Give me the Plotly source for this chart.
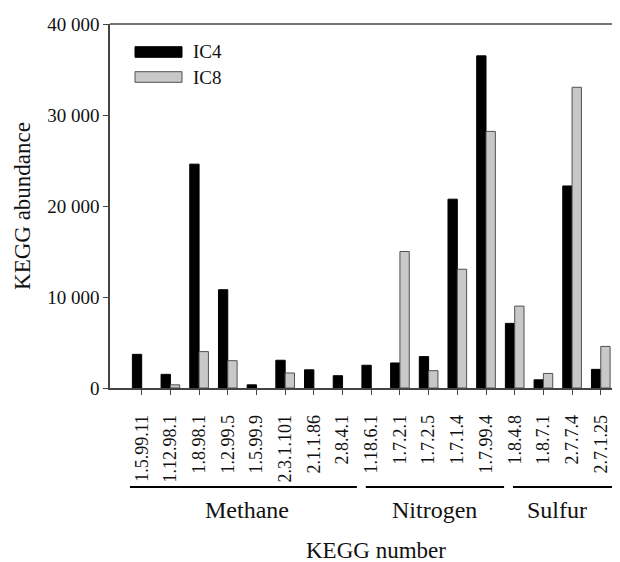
import plotly.graph_objects as go

# ---- data ----
kegg = ["1.5.99.11", "1.12.98.1", "1.8.98.1", "1.2.99.5", "1.5.99.9", "2.3.1.101",
        "2.1.1.86", "2.8.4.1", "1.18.6.1", "1.7.2.1", "1.7.2.5", "1.7.1.4",
        "1.7.99.4", "1.8.4.8", "1.8.7.1", "2.7.7.4", "2.7.1.25"]
ic4 = [3700, 1500, 24600, 10800, 350, 3050, 2000, 1350, 2500, 2750, 3450, 20750,
       36500, 7100, 900, 22200, 2050]
ic8 = [0, 350, 4000, 3000, 0, 1650, 0, 0, 0, 15000, 1900, 13050,
       28200, 9000, 1600, 33050, 4570]
series_names = ["IC4", "IC8"]
groups = ["Methane", "Nitrogen", "Sulfur"]
y_ticks = [0, 10000, 20000, 30000, 40000]

OFF = 8  # page margin of the browser
W, H = 620 - OFF, 562 - OFF
L, R, T, B = 110 - OFF, 0, 24 - OFF, 174
PW, PH = W - L - R, H - T - B

def px(x):
    return (x - OFF - L) / PW

def py(y):
    return (H - B - (y - OFF)) / PH

FONT = "Liberation Serif"
fig = go.Figure()
fig.add_trace(go.Bar(x=kegg, y=ic4, name=series_names[0],
                     marker=dict(color="#000000",
                                 line=dict(color="#000000", width=[1 if v > 0 else 0 for v in ic4])),
                     showlegend=False))
fig.add_trace(go.Bar(x=kegg, y=ic8, name=series_names[1],
                     marker=dict(color="#c8c8c8",
                                 line=dict(color="#505050", width=[1 if v > 0 else 0 for v in ic8])),
                     showlegend=False))

shapes = []
annotations = []
shapes.append(dict(type="line", xref="paper", yref="paper", x0=0, x1=1, y0=1, y1=1,
                   line=dict(color="#444444", width=1.5)))
line_y = py(487)
lab_y = py(510)
starts = [-0.41, 7.81, 12.94]
ends = [7.5, 12.63, 16.8]
for s, e in zip(starts, ends):
    shapes.append(dict(type="line", xref="x", yref="paper", x0=s, x1=e, y0=line_y, y1=line_y,
                       line=dict(color="#000000", width=2)))
for g, cx in zip(groups, [3.66, 10.22, 14.46]):
    annotations.append(dict(text=g, x=cx, y=lab_y, xref="x", yref="paper",
                            showarrow=False, xanchor="center", yanchor="middle",
                            font=dict(family=FONT, size=24, color="#111111")))
annotations.append(dict(text="KEGG number", x=px(376), y=py(550), xref="paper", yref="paper",
                        showarrow=False, xanchor="center", yanchor="middle",
                        font=dict(family=FONT, size=23, color="#111111")))
leg = [("#000000", "#000000", 46.7, 57.3), ("#c8c8c8", "#505050", 71.7, 82.3)]
for (fc, lc, y0, y1), name in zip(leg, series_names):
    shapes.append(dict(type="rect", xref="paper", yref="paper",
                       x0=px(135), x1=px(182), y0=py(y1), y1=py(y0),
                       fillcolor=fc, line=dict(color=lc, width=1)))
    annotations.append(dict(text=name, x=px(191), y=py((y0 + y1) / 2), xref="paper", yref="paper",
                            showarrow=False, xanchor="left", yanchor="middle",
                            font=dict(family=FONT, size=19, color="#111111")))

fig.update_layout(
    width=W, height=H,
    margin=dict(l=L, r=R, t=T, b=B),
    paper_bgcolor="white", plot_bgcolor="white",
    barmode="group", bargap=0.35, bargroupgap=0,
    separators=". ",
    font=dict(family=FONT, color="#111111"),
    shapes=shapes, annotations=annotations,
)
fig.update_xaxes(
    range=[-1.105, 16.67], showline=True, linecolor="#444444", linewidth=1.5,
    ticks="outside", ticklen=5, tickcolor="#444444", tickangle=-90,
    tickfont=dict(family=FONT, size=18, color="#111111"), showgrid=False, zeroline=False,
    ticklabelstandoff=13,
)
fig.update_yaxes(
    range=[0, 40000], tickvals=y_ticks, tickformat=",d", showline=True,
    linecolor="#444444", linewidth=1.5, ticks="outside", ticklen=5, tickcolor="#444444",
    tickfont=dict(family=FONT, size=19, color="#111111"), showgrid=False, zeroline=False,
    title=dict(text="KEGG abundance", font=dict(family=FONT, size=23, color="#111111"), standoff=10),
)
fig.write_html("out.html")
